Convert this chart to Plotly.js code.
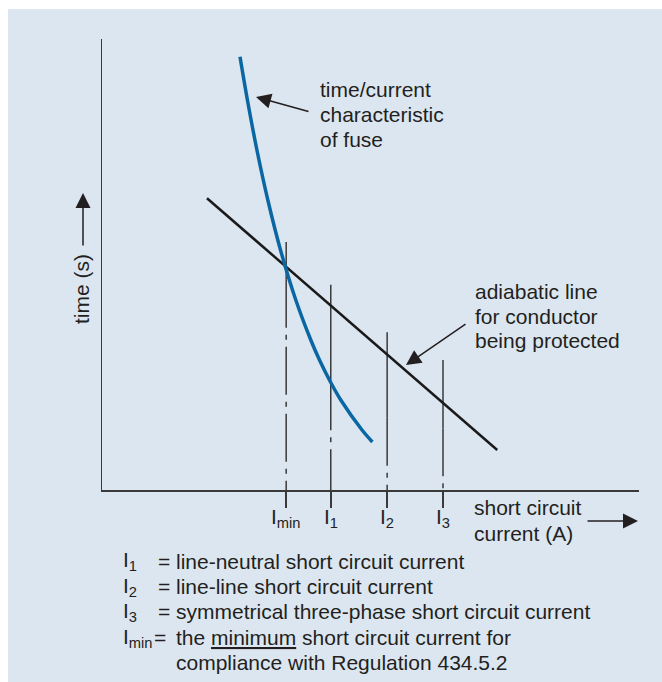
<!DOCTYPE html>
<html>
<head>
<meta charset="utf-8">
<script src="https://cdn.plot.ly/plotly-3.0.1.min.js"></script>
<style>
  body { margin: 0; background: #fff; }
  #chartDiv { position: absolute; left: 8px; top: 9px; width: 654px; height: 673px; }
</style>
</head>
<body>
<div id="chartDiv"></div>
<script>
// schematic units: current 0-100 along x, time 0-100 along y
var fuseCurrent = [25.70, 27.08, 28.85, 30.88, 33.24, 36.09, 38.88, 40.50, 42.55, 44.47, 48.42, 50.35];
var fuseTime    = [96.08, 86.47, 75.39, 64.30, 53.22, 42.13, 33.26, 28.82, 23.95, 19.96, 13.30, 10.64];

var adiabaticCurrent = [19.55, 73.6];
var adiabaticTime    = [64.7, 8.87];

// short circuit currents marked on the current axis
var currentNames  = ['I<sub>min</sub>', 'I<sub>1</sub>', 'I<sub>2</sub>', 'I<sub>3</sub>'];
var currentValues = [34.3, 42.6, 53.1, 63.5];
var markerTop     = [55.0, 45.5, 35.0, 28.8];
var solidEnd      = [46.6, 23.9, 16.0, 13.7];

var keySymbols = ['I<sub>1</sub>', 'I<sub>2</sub>', 'I<sub>3</sub>', 'I<sub>min</sub>', ''];
var keyTexts = [
  'line-neutral short circuit current',
  'line-line short circuit current',
  'symmetrical three-phase short circuit current',
  'the <span style="text-decoration:underline">minimum</span> short circuit current for',
  'compliance with Regulation 434.5.2'
];

var ink = '#231f20';
var axisInk = '#3a3a3a';

// page pixel -> paper fraction (plot area is 102..639 x 39..490 on the page)
var px = function(x){ return (x - 102) / 537; };
var py = function(y){ return (490 - y) / 451; };

// vertical current markers: solid top part, dash-dot lower part
var solidX = [], solidY = [], dashX = [], dashY = [];
currentValues.forEach(function(v, i){
  solidX.push(v, v, null); solidY.push(markerTop[i], solidEnd[i], null);
  dashX.push(v, v, null);  dashY.push(solidEnd[i], 0, null);
});

var traces = [
  {x: solidX, y: solidY, mode: 'lines', line: {color: axisInk, width: 1.5}, hoverinfo: 'skip'},
  {x: dashX, y: dashY, mode: 'lines', line: {color: axisInk, width: 1.5, dash: '48px,7px,5px,7px'}, hoverinfo: 'skip'},
  {x: adiabaticCurrent, y: adiabaticTime, mode: 'lines', line: {color: '#1a1a1a', width: 2.5}},
  {x: fuseCurrent, y: fuseTime, mode: 'lines', line: {color: '#0a67a3', width: 3.5, shape: 'spline', smoothing: 0.8}}
];

var labels = [
  {t: 'time/current', x: 319, y: 89},
  {t: 'characteristic', x: 319, y: 114.5},
  {t: 'of fuse', x: 319, y: 139},
  {t: 'adiabatic line', x: 474, y: 291},
  {t: 'for conductor', x: 474, y: 316},
  {t: 'being protected', x: 474, y: 340},
  {t: 'short circuit', x: 472.5, y: 507.5},
  {t: 'current (A)', x: 472.5, y: 533.5}
];

var keyY = [561, 586.7, 611.7, 637.5, 662.5];

var annotations = [];
labels.forEach(function(l){
  annotations.push({xref: 'paper', yref: 'paper', x: px(l.x), y: py(l.y), text: l.t,
    xanchor: 'left', yanchor: 'middle', showarrow: false, borderpad: 0});
});
keyY.forEach(function(y, i){
  if (keySymbols[i]) {
    annotations.push({xref: 'paper', yref: 'paper', x: px(122), y: py(y), text: keySymbols[i],
      xanchor: 'left', yanchor: 'middle', showarrow: false, borderpad: 0});
    annotations.push({xref: 'paper', yref: 'paper', x: px(i == 3 ? 153 : 157), y: py(y), text: '=',
      xanchor: 'left', yanchor: 'middle', showarrow: false, borderpad: 0});
  }
  annotations.push({xref: 'paper', yref: 'paper', x: px(175), y: py(y), text: keyTexts[i],
    xanchor: 'left', yanchor: 'middle', showarrow: false, borderpad: 0});
});

// current labels under the ticks
currentValues.forEach(function(v, i){
  annotations.push({xref: 'x', yref: 'paper', x: v, y: py(518), text: currentNames[i],
    xanchor: 'center', yanchor: 'middle', showarrow: false, borderpad: 0});
});

// rotated time label
annotations.push({xref: 'paper', yref: 'paper', x: px(81), y: py(289), text: 'time (s)',
  textangle: -90, xanchor: 'center', yanchor: 'middle', showarrow: false, borderpad: 0});

// arrows: tip and tail in page pixels
var arrows = [
  {tip: [256, 97], tail: [310, 112]},
  {tip: [406, 365], tail: [467, 323]},
  {tip: [83, 193], tail: [83, 247]},
  {tip: [638, 521], tail: [586, 521]}
];
arrows.forEach(function(a){
  annotations.push({xref: 'paper', yref: 'paper', x: px(a.tip[0]), y: py(a.tip[1]),
    ax: a.tail[0] - a.tip[0], ay: a.tail[1] - a.tip[1], text: '', showarrow: true,
    arrowhead: 2, arrowsize: 2, arrowwidth: 1.5, arrowcolor: ink, standoff: 0});
});

var layout = {
  width: 654,
  height: 673,
  margin: {l: 94, r: 23, t: 30, b: 192},
  paper_bgcolor: '#dce6f0',
  plot_bgcolor: '#dce6f0',
  showlegend: false,
  font: {family: 'Liberation Sans, Arial, sans-serif', size: 21, color: ink},
  xaxis: {
    range: [0, 100], showgrid: false, zeroline: false,
    showline: true, linecolor: axisInk, linewidth: 1.5,
    tickmode: 'array', tickvals: currentValues, showticklabels: false,
    ticks: 'outside', ticklen: 16, tickwidth: 1.5, tickcolor: axisInk
  },
  yaxis: {
    range: [0, 100], showgrid: false, zeroline: false,
    showline: true, linecolor: axisInk, linewidth: 1.5,
    showticklabels: false, ticks: ''
  },
  annotations: annotations
};

Plotly.newPlot('chartDiv', traces, layout, {displayModeBar: false, staticPlot: true});
</script>
</body>
</html>
